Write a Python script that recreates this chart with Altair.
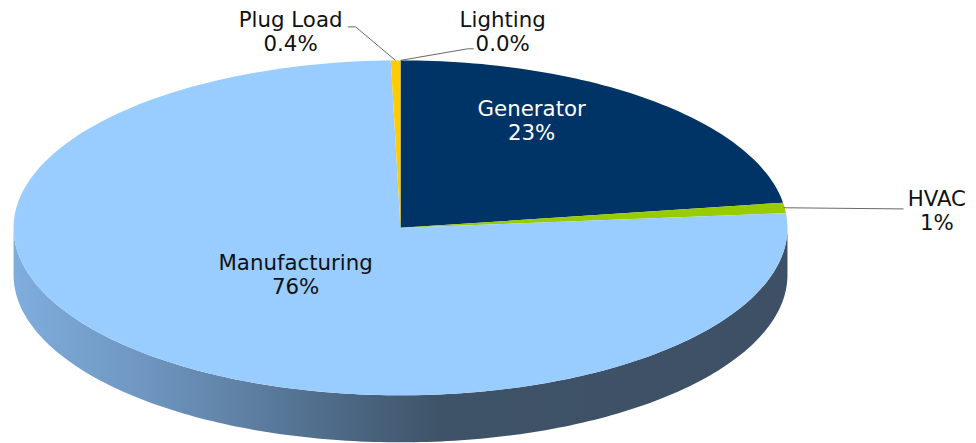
import math
import altair as alt
import pandas as pd

# ---- values (percent of total, clockwise from 12 o'clock)
categories = ["Generator", "HVAC", "Manufacturing", "Plug Load", "Lighting"]
shares = [22.6, 1.0, 76.0, 0.4, 0.0]
display = ["23%", "1%", "76%", "0.4%", "0.0%"]
colors = ["#003366", "#99CC00", "#99CCFF", "#FFCC00", "#BBBBBB"]
text_colors = ["#ffffff", "#111111", "#111111", "#111111", "#111111"]

# ---- label anchors, in pie units (1 = ellipse radius)
label_x = [0.339, 1.386, -0.271, -0.284, 0.264]
label_y = [0.705, 0.167, -0.215, 1.236, 1.236]

# leader lines in pie units, one list per labelled slice
leaders = {
    "Plug Load": ([-0.136, -0.116, -0.013], [1.20, 1.20, 1.0]),
    "Lighting": ([0.0, 0.173, 0.189], [1.0, 1.069, 1.069]),
    "HVAC": ([0.99, 1.30], [0.12, 0.113]),
}

# ---- geometry (the photograph shrinks the page slightly; S compensates for it)
S = 976 / 984
W, H = 968, 440
CX, CY = 400.5 / S - 8, 226.0 / S - 8
RX, RY, DEPTH = 387.0 / S, 167.5 / S, 47.0 / S
x_scale = alt.Scale(domain=[-CX / RX, (W - CX) / RX], nice=False, zero=False)
y_scale = alt.Scale(domain=[(CY - H) / RY, CY / RY], nice=False, zero=False)
AX = dict(axis=None)


def wedge(start, end):
    n = max(2, int((end - start) * 3))
    rows = [{"px": 0.0, "py": 0.0, "i": 0}]
    for k in range(n + 1):
        a = math.radians((start + (end - start) * k / n) * 3.6)
        rows.append({"px": math.sin(a), "py": math.cos(a), "i": k + 1})
    return pd.DataFrame(rows)


def polygon(df, fill):
    return (
        alt.Chart(df)
        .mark_line(fill=fill, strokeWidth=0, interpolate="linear")
        .encode(
            x=alt.X("px:Q", scale=x_scale, **AX),
            y=alt.Y("py:Q", scale=y_scale, **AX),
            order="i:Q",
        )
    )


# side wall: lower half of the rim, shifted down by the depth
d = DEPTH / RY
side_rows = []
steps = 180
for k in range(steps + 1):
    a = math.radians(180 * k / steps)
    side_rows.append({"px": math.cos(a), "py": -math.sin(a), "i": k})
for k in range(steps + 1):
    a = math.radians(180 - 180 * k / steps)
    side_rows.append({"px": math.cos(a), "py": -math.sin(a) - d, "i": steps + 1 + k})
side = polygon(
    pd.DataFrame(side_rows),
    alt.Gradient(
        gradient="linear",
        x1=0, x2=1, y1=0, y2=0,
        stops=[
            alt.GradientStop(offset=0.0, color="#7FADDC"),
            alt.GradientStop(offset=0.15, color="#7099C4"),
            alt.GradientStop(offset=0.3, color="#5F80A3"),
            alt.GradientStop(offset=0.42, color="#4D6A86"),
            alt.GradientStop(offset=0.55, color="#3F5368"),
            alt.GradientStop(offset=1.0, color="#3D5066"),
        ],
    ),
)

layers = [side]
cum = 0.0
for cat, share, col in zip(categories, shares, colors):
    if share > 0:
        layers.append(polygon(wedge(cum, cum + share), col))
    cum += share

for name, (lx, ly) in leaders.items():
    df = pd.DataFrame({"px": lx, "py": ly, "i": range(len(lx))})
    layers.append(
        alt.Chart(df)
        .mark_line(color="#666666", strokeWidth=1)
        .encode(
            x=alt.X("px:Q", scale=x_scale, **AX),
            y=alt.Y("py:Q", scale=y_scale, **AX),
            order="i:Q",
        )
    )

labels = pd.DataFrame(
    {
        "px": label_x,
        "py": label_y,
        "label": [f"{c}\n{v}" for c, v in zip(categories, display)],
        "tc": text_colors,
    }
)
layers.append(
    alt.Chart(labels)
    .mark_text(
        font="DejaVu Sans", fontSize=21.5, lineBreak="\n", lineHeight=24,
        align="center", baseline="middle",
    )
    .encode(
        x=alt.X("px:Q", scale=x_scale, **AX),
        y=alt.Y("py:Q", scale=y_scale, **AX),
        text="label:N",
        color=alt.Color("tc:N", scale=None),
    )
)

chart = (
    alt.layer(*layers)
    .properties(
        width=W, height=H, padding=0, background="white",
        autosize=alt.AutoSizeParams(type="none"),
    )
    .configure_view(stroke=None)
)
chart.save("out.html", embed_options={"renderer": "svg", "actions": False})
